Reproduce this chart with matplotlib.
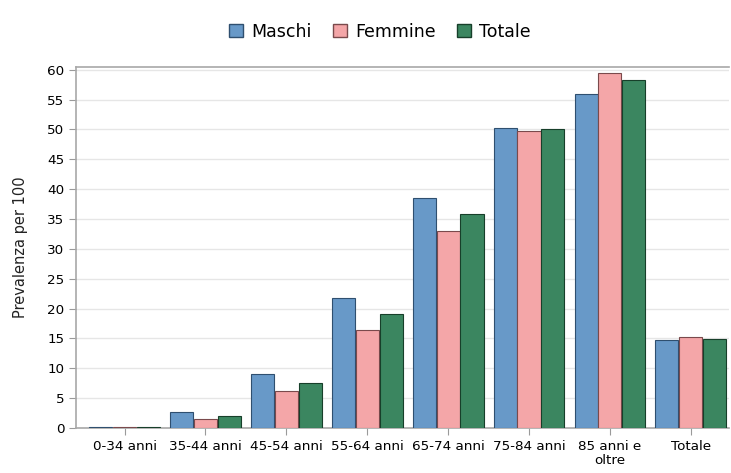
import numpy as np
import matplotlib.pyplot as plt
from matplotlib.patches import Patch

categories = ["0-34 anni", "35-44 anni", "45-54 anni", "55-64 anni",
              "65-74 anni", "75-84 anni", "85 anni e\noltre", "Totale"]
maschi = [0.2, 2.7, 9.1, 21.7, 38.6, 50.2, 56.0, 14.7]
femmine = [0.1, 1.6, 6.2, 16.4, 33.0, 49.8, 59.4, 15.3]
totale = [0.15, 2.1, 7.6, 19.1, 35.8, 50.0, 58.2, 14.9]

series = [("Maschi", maschi, "#6899c8", "#2f4f6f"),
          ("Femmine", femmine, "#f4a6a8", "#7a4a4c"),
          ("Totale", totale, "#3b8660", "#173f2a")]

plt.rcParams['font.family'] = ['DejaVu Sans']

fig = plt.figure(figsize=(7.31, 4.73), dpi=100)
ax = fig.add_axes([0.104, 0.095, 0.893, 0.764])

x = np.arange(len(categories))
w = 0.285
for i, (name, vals, fc, ec) in enumerate(series):
    ax.bar(x + (i - 1) * (w + 0.01), vals, width=w, color=fc,
           edgecolor=ec, linewidth=0.8, zorder=3)

ax.set_xlim(-0.6, 7.47)
ax.set_ylim(0, 60.5)
ax.set_yticks(range(0, 61, 5))
ax.set_xticks(x)
ax.set_xticklabels(categories, fontsize=9.7, linespacing=1.1)
ax.tick_params(axis='y', labelsize=9.7, color='#9a9a9a', length=5)
ax.tick_params(axis='x', color='#9a9a9a', length=5)
ax.yaxis.grid(True, color='#e6e6e6', linewidth=1, zorder=0)
ax.set_axisbelow(True)
for side in ['left', 'bottom', 'top']:
    ax.spines[side].set_color('#a8a8a8')
    ax.spines[side].set_linewidth(1.2)
ax.spines['right'].set_visible(False)
ax.set_ylabel("Prevalenza per 100", fontsize=10.5, labelpad=14, color='#222222')

handles = [Patch(facecolor=fc, edgecolor=ec, label=name) for name, _, fc, ec in series]
fig.legend(handles=handles, loc='upper center', bbox_to_anchor=(0.52, 0.985),
           ncol=3, frameon=False, fontsize=12.5, handlelength=0.8,
           handleheight=0.8, handletextpad=0.5, columnspacing=1.2)

fig.savefig("out.png", dpi=100)
